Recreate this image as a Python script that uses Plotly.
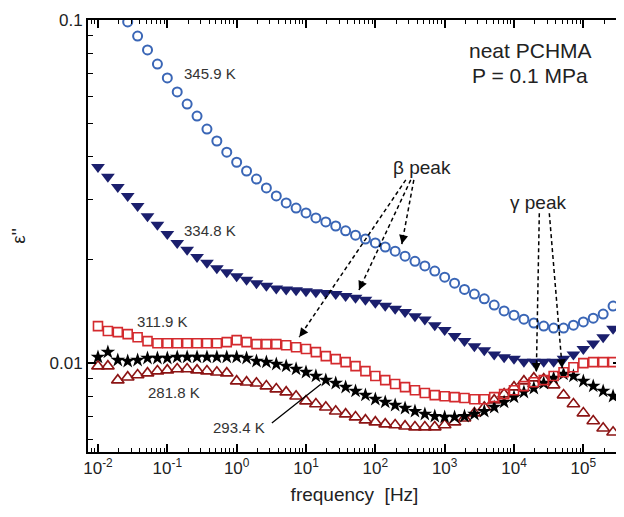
import math
import plotly.graph_objects as go

# frequency points [Hz]
freq = [0.01, 0.01389, 0.01931, 0.02683, 0.03728, 0.05179, 0.07197,
        0.1, 0.1389, 0.1931, 0.2683, 0.3728, 0.5179, 0.7197,
        1.0, 1.389, 1.931, 2.683, 3.728, 5.179, 7.197,
        10.0, 13.89, 19.31, 26.83, 37.28, 51.79, 71.97,
        100.0, 138.9, 193.1, 268.3, 372.8, 517.9, 719.7,
        1000.0, 1389.0, 1931.0, 2683.0, 3728.0, 5179.0, 7197.0,
        10000.0, 13890.0, 19310.0, 26830.0, 37280.0, 51790.0, 71970.0,
        100000.0, 138900.0, 193100.0, 268300.0]

eps_345_9K = [0.133, 0.120, 0.108, 0.0987, 0.0898, 0.0818, 0.0744, 0.0678, 0.0617, 0.0569,
              0.0525, 0.0481, 0.0444, 0.0412, 0.0385, 0.0363, 0.0344, 0.0324, 0.0307, 0.0293,
              0.0283, 0.0274, 0.0265, 0.0258, 0.0251, 0.0243, 0.0236, 0.0230, 0.0224, 0.0218,
              0.0212, 0.0205, 0.0198, 0.0192, 0.01855, 0.0178, 0.0171, 0.0164, 0.0159, 0.0154,
              0.01476, 0.01419, 0.0138, 0.01343, 0.01309, 0.01282, 0.01265, 0.01265, 0.0129, 0.01318,
              0.01352, 0.0139, 0.01466]

eps_334_8K = [0.0373, 0.0349, 0.0326, 0.0307, 0.0287, 0.0268, 0.0253, 0.0238, 0.0224, 0.0214,
              0.0204, 0.0196, 0.0189, 0.0184, 0.0179, 0.0175, 0.0171, 0.0168, 0.0165, 0.0164,
              0.0163, 0.0162, 0.0161, 0.0160, 0.0159, 0.0157, 0.0155, 0.0153, 0.0150, 0.0147,
              0.0144, 0.0141, 0.0137, 0.0134, 0.0129, 0.0125, 0.0120, 0.0116, 0.0112, 0.0109,
              0.0106, 0.0104, 0.0103, 0.0101, 0.0101, 0.0101, 0.0101, 0.0103, 0.0106, 0.0110,
              0.0114, 0.0119, 0.0126]

eps_311_9K = [0.01282, 0.0124, 0.01231, 0.01215, 0.0119, 0.01159, 0.01143, 0.01143, 0.01143, 0.01143,
              0.01143, 0.01143, 0.01143, 0.01151, 0.01167, 0.01151, 0.01136, 0.01136, 0.01136, 0.01128,
              0.01113, 0.01099, 0.01077, 0.01048, 0.01027, 0.01007, 0.0098, 0.00948, 0.00917, 0.00892,
              0.00869, 0.00851, 0.00834, 0.00818, 0.00807, 0.00801, 0.00796, 0.00791, 0.00785, 0.00785,
              0.00796, 0.00812, 0.00834, 0.00857, 0.0088, 0.00892, 0.00917, 0.00941, 0.00973, 0.0100,
              0.01007, 0.01007, 0.01007]

eps_293_4K = [0.01041, 0.01077, 0.0102, 0.01013, 0.0102, 0.01034, 0.01034, 0.01034, 0.01041, 0.01041,
              0.01041, 0.01041, 0.01041, 0.01041, 0.01041, 0.01034, 0.01013, 0.01007, 0.00993, 0.0098,
              0.00961, 0.00941, 0.00917, 0.00892, 0.00874, 0.00851, 0.00829, 0.00807, 0.00785, 0.0077,
              0.00754, 0.00739, 0.00724, 0.0071, 0.0070, 0.00696, 0.00696, 0.0070, 0.0071, 0.00724,
              0.00744, 0.0077, 0.00796, 0.00823, 0.00845, 0.00874, 0.00904, 0.00929, 0.00917, 0.00886,
              0.00857, 0.00829, 0.00801]

eps_281_8K = [0.0098, 0.0098, 0.00892, 0.0091, 0.00923, 0.00935, 0.00948, 0.00954, 0.00961, 0.00961,
              0.00954, 0.00948, 0.00941, 0.00935, 0.00886, 0.0088, 0.00874, 0.00857, 0.0084, 0.00823,
              0.00801, 0.00775, 0.0076, 0.00744, 0.00724, 0.0071, 0.00696, 0.00682, 0.00673, 0.00664,
              0.0066, 0.00655, 0.00651, 0.00651, 0.00651, 0.0066, 0.00673, 0.00691, 0.00715, 0.00744,
              0.0078, 0.00812, 0.00851, 0.00886, 0.00904, 0.00898, 0.00863, 0.00807, 0.0076, 0.00715,
              0.00678, 0.00646, 0.00629]

x_tickvals = [1e-2, 1e-1, 1e0, 1e1, 1e2, 1e3, 1e4, 1e5]
x_ticktext = ["10<sup>-2</sup>", "10<sup>-1</sup>", "10<sup>0</sup>", "10<sup>1</sup>",
              "10<sup>2</sup>", "10<sup>3</sup>", "10<sup>4</sup>", "10<sup>5</sup>"]
y_tickvals = [0.01, 0.1]
y_ticktext = ["0.01", "0.1"]

x_minor = [m * 10.0 ** e for e in range(-3, 6) for m in range(2, 10)]
y_minor = [m * 10.0 ** e for e in range(-3, 0) for m in range(2, 10)]

FONT = "Liberation Sans, Arial, sans-serif"

fig = go.Figure()

fig.add_trace(go.Scatter(x=freq, y=eps_281_8K, mode="markers", name="281.8 K",
                         marker=dict(symbol="triangle-up-open", size=11, color="#8c1414",
                                     line=dict(width=1.6, color="#8c1414"))))
fig.add_trace(go.Scatter(x=freq, y=eps_293_4K, mode="markers", name="293.4 K",
                         marker=dict(symbol="star", size=11, color="#000000",
                                     line=dict(width=0))))
fig.add_trace(go.Scatter(x=freq, y=eps_311_9K, mode="markers", name="311.9 K",
                         marker=dict(symbol="square-open", size=9, color="#d42a2e",
                                     line=dict(width=1.6, color="#d42a2e"))))
fig.add_trace(go.Scatter(x=freq, y=eps_334_8K, mode="markers", name="334.8 K",
                         marker=dict(symbol="triangle-down", size=12, color="#1b1f6d",
                                     line=dict(width=0))))
fig.add_trace(go.Scatter(x=freq, y=eps_345_9K, mode="markers", name="345.9 K",
                         marker=dict(symbol="circle-open", size=9, color="#3a66b6",
                                     line=dict(width=2, color="#3a66b6"))))

# dashed guide lines for peaks (start, end in data units)
beta_lines = [((275.0, 0.0342), (7.98, 0.01191)),   # to 311.9 K
              ((324.0, 0.0342), (58.1, 0.01633)),   # to 334.8 K
              ((359.0, 0.0342), (241.0, 0.02223))]  # to 345.9 K
gamma_lines = [((23170.0, 0.02735), (20990.0, 0.00942)),
               ((32280.0, 0.02735), (49550.0, 0.00966))]
for (x0, y0), (x1, y1) in beta_lines + gamma_lines:
    fig.add_trace(go.Scatter(x=[x0, x1], y=[y0, y1], mode="lines", showlegend=False,
                             hoverinfo="skip",
                             line=dict(color="black", width=1.5, dash="4px,3px")))

annotations = []
heads = [((7.98, 0.01191), 6, -8), ((58.1, 0.01633), 4, -9), ((241.0, 0.02223), 2, -10),
         ((20990.0, 0.00942), 0, -10), ((49550.0, 0.00966), -1, -10)]
for (hx, hy), ax, ay in heads:
    annotations.append(dict(x=math.log10(hx), y=math.log10(hy), xref="x", yref="y",
                            ax=ax, ay=ay, text="", showarrow=True, arrowhead=2,
                            arrowsize=1.2, arrowwidth=1.5, arrowcolor="black", standoff=0))

# solid pointer for 293.4 K
annotations.append(dict(x=1.218, y=-2.061, ax=0.486, ay=-2.178, axref="x", ayref="y",
                        xref="x", yref="y", text="", showarrow=True, arrowhead=0,
                        arrowwidth=1.3, arrowcolor="black"))

labels = [("345.9 K", -0.793, -1.1545), ("334.8 K", -0.793, -1.612),
          ("311.9 K", -1.468, -1.880), ("281.8 K", -1.310, -2.085),
          ("293.4 K", -0.376, -2.187)]
for t, lx, ly in labels:
    annotations.append(dict(x=lx, y=ly, xref="x", yref="y", text=t, showarrow=False,
                            xanchor="left", yanchor="middle",
                            font=dict(family=FONT, size=15, color="#333333")))

annotations.append(dict(x=2.67, y=-1.4286, xref="x", yref="y", text="β peak", showarrow=False,
                        font=dict(family=FONT, size=19, color="#222222")))
annotations.append(dict(x=4.351, y=-1.5306, xref="x", yref="y", text="γ peak", showarrow=False,
                        font=dict(family=FONT, size=19, color="#222222")))
annotations.append(dict(x=4.236, y=-1.0875, xref="x", yref="y", text="neat PCHMA", showarrow=False,
                        font=dict(family=FONT, size=21, color="#222222")))
annotations.append(dict(x=4.236, y=-1.162, xref="x", yref="y", text="P = 0.1 MPa", showarrow=False,
                        font=dict(family=FONT, size=21, color="#222222")))

# the page body adds an 8 px offset, so the figure is sized/margined to compensate
fig.update_layout(
    width=616, height=509,
    margin=dict(l=80, r=1, t=12, b=65),
    paper_bgcolor="white", plot_bgcolor="white",
    showlegend=False,
    font=dict(family=FONT, size=17, color="#222222"),
    annotations=annotations,
    xaxis=dict(type="log", range=[-2.144, 5.543],
               tickvals=x_tickvals, ticktext=x_ticktext,
               ticks="inside", ticklen=8, tickwidth=1.5, tickcolor="black",
               showline=True, linecolor="black", linewidth=2, mirror="ticks",
               showgrid=False, zeroline=False,
               tickfont=dict(family=FONT, size=17, color="#222222"),
               minor=dict(tickvals=x_minor, ticks="inside", ticklen=4, tickwidth=1.2,
                          tickcolor="black", showgrid=False),
               title=dict(text="frequency  [Hz]", standoff=10,
                          font=dict(family=FONT, size=19, color="#222222"))),
    yaxis=dict(type="log", range=[-2.259, -1.0],
               tickvals=y_tickvals, ticktext=y_ticktext,
               ticks="inside", ticklen=8, tickwidth=1.5, tickcolor="black",
               showline=True, linecolor="black", linewidth=2, mirror="ticks",
               showgrid=False, zeroline=False,
               tickfont=dict(family=FONT, size=17, color="#222222"),
               minor=dict(tickvals=y_minor, ticks="inside", ticklen=5, tickwidth=1.2,
                          tickcolor="black", showgrid=False),
               title=dict(text="ε''", standoff=26,
                          font=dict(family=FONT, size=19, color="#222222"))),
)

fig.write_html("out.html")
